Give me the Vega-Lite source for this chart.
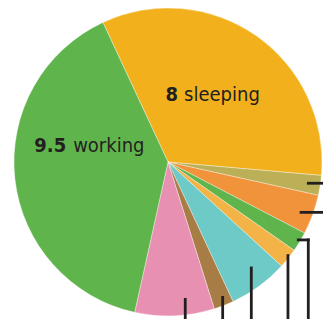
{
  "$schema": "https://vega.github.io/schema/vega-lite/v6.json",
  "width": 308,
  "height": 308,
  "autosize": {"type": "none"},
  "padding": {"left": 14, "top": 8, "right": 1, "bottom": 3},
  "background": "white",
  "config": {"view": {"stroke": null}},
  "layer": [
    {
      "data": {"values": [
        {"activity": "sleeping", "hours": 8, "order": 1},
        {"activity": "a", "hours": 0.5, "order": 2},
        {"activity": "b", "hours": 1, "order": 3},
        {"activity": "c", "hours": 0.5, "order": 4},
        {"activity": "d", "hours": 0.5, "order": 5},
        {"activity": "e", "hours": 1.5, "order": 6},
        {"activity": "f", "hours": 0.5, "order": 7},
        {"activity": "g", "hours": 2, "order": 8},
        {"activity": "working", "hours": 9.5, "order": 9}
      ]},
      "mark": {"type": "arc", "stroke": "#ffffff", "strokeWidth": 0.5, "strokeOpacity": 0.7},
      "encoding": {
        "theta": {"field": "hours", "type": "quantitative", "stack": true, "scale": {"range": [-0.4363, 5.8469]}},
        "order": {"field": "order", "type": "quantitative"},
        "color": {"field": "activity", "type": "nominal", "legend": null,
          "scale": {"domain": ["sleeping", "a", "b", "c", "d", "e", "f", "g", "working"],
                    "range": ["#F2B11C", "#BBB058", "#F1933B", "#60B44C", "#F3B347", "#6DCAC6", "#A77D45", "#E890B2", "#60B44C"]}}
      }
    },
    {
      "data": {"values": [
        {"x": 0.911, "x2": 1.03, "y": -0.138, "y2": -0.138},
        {"x": 0.864, "x2": 1.03, "y": -0.327, "y2": -0.327},
        {"x": 0.846, "x2": 0.911, "y": -0.506, "y2": -0.506},
        {"x": 0.911, "x2": 0.911, "y": -0.506, "y2": -1.06},
        {"x": 0.779, "x2": 0.779, "y": -0.608, "y2": -1.06},
        {"x": 0.541, "x2": 0.541, "y": -0.688, "y2": -1.06},
        {"x": 0.355, "x2": 0.355, "y": -0.879, "y2": -1.06},
        {"x": 0.112, "x2": 0.112, "y": -0.892, "y2": -1.06}
      ]},
      "mark": {"type": "rule", "color": "#231F20", "strokeWidth": 2.8, "strokeCap": "square", "clip": false},
      "encoding": {
        "x": {"field": "x", "type": "quantitative", "scale": {"domain": [-1, 1], "nice": false, "zero": false}, "axis": null},
        "x2": {"field": "x2"},
        "y": {"field": "y", "type": "quantitative", "scale": {"domain": [-1, 1], "nice": false, "zero": false}, "axis": null},
        "y2": {"field": "y2"}
      }
    },
    {
      "data": {"values": [
        {"label": "9.5", "x": -0.661, "y": 0.0669},
        {"label": "8", "x": 0.0656, "y": 0.396}
      ]},
      "mark": {"type": "text", "align": "right", "baseline": "alphabetic", "font": "DejaVu Sans Condensed", "fontWeight": "bold", "fontSize": 20, "color": "#231F20"},
      "encoding": {
        "x": {"field": "x", "type": "quantitative"},
        "y": {"field": "y", "type": "quantitative"},
        "text": {"field": "label"}
      }
    },
    {
      "data": {"values": [
        {"label": "working", "x": -0.616, "y": 0.0669},
        {"label": "sleeping", "x": 0.1045, "y": 0.396}
      ]},
      "mark": {"type": "text", "align": "left", "baseline": "alphabetic", "font": "DejaVu Sans Condensed", "fontSize": 20, "color": "#231F20"},
      "encoding": {
        "x": {"field": "x", "type": "quantitative"},
        "y": {"field": "y", "type": "quantitative"},
        "text": {"field": "label"}
      }
    }
  ]
}
